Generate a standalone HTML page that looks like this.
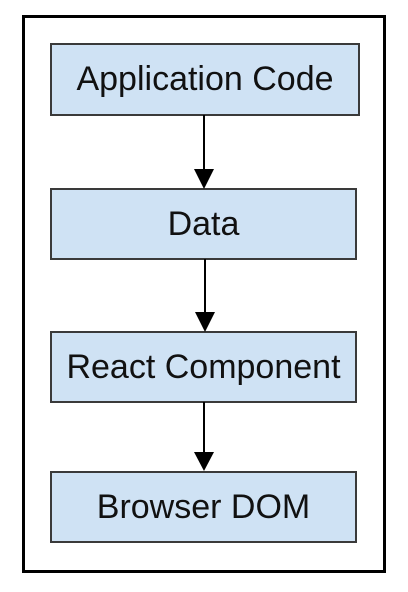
<!DOCTYPE html>
<html><head><style>
body{margin:0;width:408px;height:592px;background:#fff;position:relative;overflow:hidden;font-family:"Liberation Sans",sans-serif}
.frame{position:absolute;left:22px;top:15px;width:358px;height:552px;border:3px solid #000;box-sizing:content-box}
.b{position:absolute;left:50px;width:307px;height:72px;box-sizing:border-box;background:#cfe2f4;border:2px solid #3a3a3a;display:flex;align-items:center;justify-content:center;font-size:34px;color:#111;white-space:nowrap}
</style></head><body>
<div class="frame"></div>
<div class="b" style="top:43px;width:310px;height:73px">Application Code</div>
<div class="b" style="top:188px">Data</div>
<div class="b" style="top:331px">React Component</div>
<div class="b" style="top:471px">Browser DOM</div>
<svg width="408" height="592" style="position:absolute;left:0;top:0">
<g stroke="#000" stroke-width="2"><line x1="204" y1="115" x2="204" y2="172"/><line x1="205" y1="259" x2="205" y2="315"/><line x1="204" y1="402" x2="204" y2="455"/></g>
<g fill="#000"><polygon points="194,169 214,169 204,189"/><polygon points="195,312 215,312 205,332"/><polygon points="194,452 214,452 204,471"/></g>
</svg>
</body></html>
